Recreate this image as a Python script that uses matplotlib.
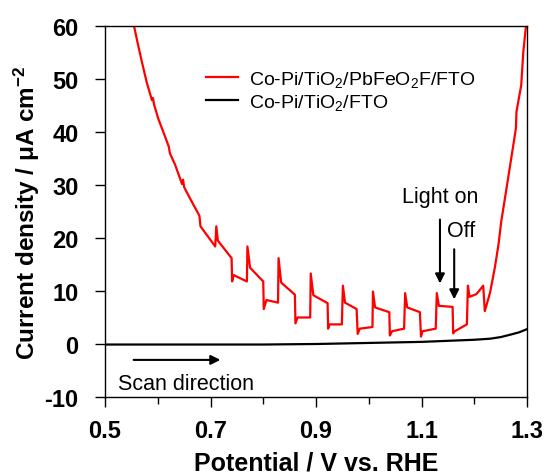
import matplotlib
matplotlib.use("Agg")
import matplotlib.pyplot as plt

plt.rcParams['font.family'] = ['Liberation Sans', 'DejaVu Sans']
plt.rcParams['mathtext.fontset'] = 'custom'
plt.rcParams['mathtext.rm'] = 'Liberation Sans'
plt.rcParams['mathtext.bf'] = 'Liberation Sans:bold'
plt.rcParams['mathtext.default'] = 'regular'
plt.rcParams['axes.unicode_minus'] = False

# red curve: Co-Pi/TiO2/PbFeO2F/FTO (chopped light)
red_x = [0.555, 0.563, 0.570, 0.579, 0.589, 0.591, 0.593, 0.601, 0.614, 0.621,
         0.623, 0.633, 0.646, 0.648, 0.650, 0.661, 0.679, 0.681, 0.709, 0.711,
         0.714, 0.740, 0.741, 0.744, 0.769, 0.770, 0.775, 0.800, 0.801, 0.806,
         0.828, 0.829, 0.834, 0.860, 0.861, 0.865, 0.889, 0.890, 0.895, 0.922,
         0.923, 0.926, 0.949, 0.951, 0.955, 0.977, 0.979, 0.983, 1.007, 1.008,
         1.012, 1.039, 1.040, 1.044, 1.067, 1.069, 1.073, 1.097, 1.099, 1.102,
         1.127, 1.129, 1.133, 1.159, 1.160, 1.163, 1.186, 1.188, 1.191, 1.204,
         1.217, 1.220, 1.230, 1.239, 1.246, 1.249, 1.251, 1.255, 1.262, 1.274,
         1.279, 1.280, 1.289, 1.293, 1.298]
red_y = [60.0, 56.3, 53.2, 49.4, 46.0, 46.4, 45.2, 42.5, 39.1, 37.2,
         36.0, 33.8, 30.2, 31.0, 29.6, 27.5, 24.2, 22.2, 18.4, 22.2,
         19.5, 16.2, 11.8, 13.0, 11.8, 18.4, 14.4, 11.8, 6.6, 8.3,
         7.8, 16.2, 11.6, 9.3, 3.9, 5.0, 5.0, 13.3, 9.2, 7.7,
         2.9, 3.7, 3.7, 11.0, 7.8, 6.6, 1.9, 2.9, 3.2, 9.9,
         6.9, 6.0, 1.6, 2.4, 2.9, 9.6, 6.9, 6.0, 1.4, 2.4,
         2.9, 9.6, 7.2, 7.0, 2.0, 2.4, 3.7, 11.0, 8.9, 9.4,
         11.0, 6.2, 9.7, 14.4, 18.8, 21.3, 23.0, 25.5, 29.9, 37.5,
         40.7, 43.8, 48.8, 55.1, 60.0]

# black curve: Co-Pi/TiO2/FTO
blk_x = [0.50, 0.60, 0.70, 0.80, 0.90, 0.95, 1.00, 1.05, 1.10, 1.15,
         1.20, 1.23, 1.25, 1.27, 1.285, 1.30]
blk_y = [-0.1, -0.1, -0.1, -0.1, 0.0, 0.1, 0.2, 0.3, 0.4, 0.6,
         0.8, 1.0, 1.3, 1.8, 2.2, 2.8]

xticks = [0.5, 0.7, 0.9, 1.1, 1.3]
xminor = [0.6, 0.8, 1.0, 1.2]
yticks = [-10, 0, 10, 20, 30, 40, 50, 60]

fig = plt.figure(figsize=(5.46, 4.77), dpi=100)
ax = fig.add_axes([105/546, 1-398/477, 422/546, 371/477])

ax.plot(red_x, red_y, color='#ff0000', lw=1.6,
        label='Co-Pi/TiO$_2$/PbFeO$_2$F/FTO')
ax.plot(blk_x, blk_y, color='black', lw=1.6, label='Co-Pi/TiO$_2$/FTO')

ax.set_xlim(0.5, 1.3)
ax.set_ylim(-10, 60)
ax.set_xticks(xticks)
ax.set_xticklabels([str(v) for v in xticks])
ax.set_xticks(xminor, minor=True)
ax.set_yticks(yticks)
ax.tick_params(which='major', direction='out', length=7, width=1,
               labelsize=17, top=False, right=False)
ax.tick_params(which='minor', direction='out', length=5, width=1)
ax.tick_params(axis='x', which='major', pad=9)
ax.tick_params(axis='y', which='major', pad=12)
for lab in ax.get_xticklabels() + ax.get_yticklabels():
    lab.set_fontweight('bold')
for s in ax.spines.values():
    s.set_linewidth(1)

ax.set_xlabel('Potential / V vs. RHE', fontsize=18, fontweight='bold', labelpad=6)
ax.set_ylabel('Current density / μA cm$^{\\mathbf{-2}}$', fontsize=17.5,
              fontweight='bold', labelpad=2)

ax.legend(loc='upper left', bbox_to_anchor=(0.216, 0.911), frameon=False,
          fontsize=14, handlelength=1.63, handletextpad=0.6, labelspacing=0.15,
          borderpad=0)

# light on / off arrows
arr = dict(arrowstyle='-|>', color='black', lw=1.5, mutation_scale=14)
ax.annotate('', xy=(1.135, 10.9), xytext=(1.135, 24.0), arrowprops=arr)
ax.annotate('', xy=(1.162, 7.9), xytext=(1.162, 18.4), arrowprops=arr)
ax.text(1.136, 27.9, 'Light on', fontsize=15.5, ha='center', va='center')
ax.text(1.148, 21.5, 'Off', fontsize=15.5, ha='left', va='center')

# scan direction
ax.annotate('', xy=(0.724, -3.0), xytext=(0.549, -3.0), arrowprops=arr)
ax.text(0.524, -7.4, 'Scan direction', fontsize=15.5, ha='left', va='center')

fig.savefig('out.png', dpi=100)
